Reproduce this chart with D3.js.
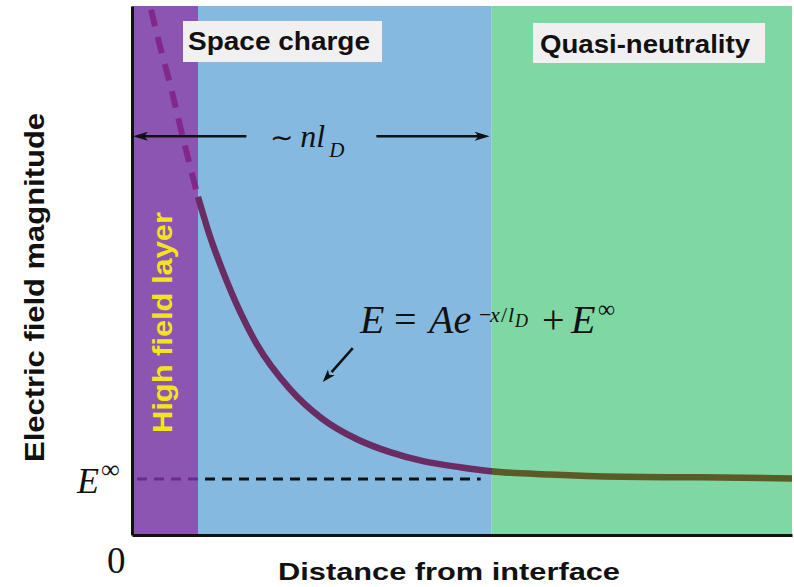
<!DOCTYPE html>
<html>
<head>
<meta charset="utf-8">
<script src="https://cdn.jsdelivr.net/npm/d3@7"></script>
<style>
  html, body { margin: 0; padding: 0; background: #fff; }
  svg { display: block; }
</style>
</head>
<body>
<svg id="chart" width="794" height="587"></svg>
<script>
// ---- data -------------------------------------------------------------
const regionNames = ["High field layer", "Space charge", "Quasi-neutrality"];
const regionStart = [0, 1.0, 5.45];
const regionEnd   = [1.0, 5.45, 10];

// field magnitude E(x) (arbitrary units), distance in arbitrary units
const fieldX = [0.27, 0.42, 0.58, 0.73, 0.88, 1.00, 1.18, 1.38, 1.64, 1.89, 2.39, 2.89,
                3.41, 3.91, 4.41, 4.97, 5.44, 6.33, 7.39, 8.61, 10.0];
const fieldY = [9.48, 8.75, 8.04, 7.30, 6.59, 6.04, 5.34, 4.70, 3.98, 3.41, 2.61, 2.07,
                1.71, 1.48, 1.32, 1.21, 1.14, 1.08, 1.04, 1.03, 1.01];

const eInf = 1.0;               // asymptotic field E∞
const spanExtent = [0, 5.45];   // extent marked "~ n l_D"
const spanLevel = 7.125;        // height of the span arrows
const xDomain = [0, 10];
const yDomain = [0, 9.45];
const originLabel = "0";
const xTitle = "Distance from interface";
const yTitle = "Electric field magnitude";

// ---- styles -----------------------------------------------------------
const regionColors = ["#8c55b2", "#86b9e0", "#7fd7a4"];
const serif = "'Liberation Serif', 'Times New Roman', serif";
const sans = "'Liberation Sans', Arial, sans-serif";

// ---- scales -----------------------------------------------------------
const svg = d3.select("#chart");
const x = d3.scaleLinear().domain(xDomain).range([132, 792]);
const y = d3.scaleLinear().domain(yDomain).range([535, 6]);

const defs = svg.append("defs");
defs.append("clipPath").attr("id", "plot-clip")
  .append("rect")
  .attr("x", x(xDomain[0])).attr("y", y(yDomain[1]))
  .attr("width", x(xDomain[1]) - x(xDomain[0]))
  .attr("height", y(yDomain[0]) - y(yDomain[1]));

// region bands
svg.append("g").selectAll("rect")
  .data(regionNames)
  .join("rect")
  .attr("x", (d, i) => x(regionStart[i]))
  .attr("width", (d, i) => x(regionEnd[i]) - x(regionStart[i]))
  .attr("y", y(yDomain[1]))
  .attr("height", y(yDomain[0]) - y(yDomain[1]))
  .attr("fill", (d, i) => regionColors[i]);

// region labels (boxed, in the top strip)
const boxed = [
  { name: regionNames[1], bx: 183, by: 21, bw: 199, bh: 41, tx: 188, ty: 50, tl: 182 },
  { name: regionNames[2], bx: 533, by: 23, bw: 232, bh: 40, tx: 540, ty: 53, tl: 210 }
];
const lbl = svg.append("g");
boxed.forEach(b => {
  lbl.append("rect").attr("x", b.bx).attr("y", b.by).attr("width", b.bw).attr("height", b.bh)
    .attr("fill", "#f1f0f0");
  lbl.append("text").attr("x", b.tx).attr("y", b.ty)
    .attr("font-family", sans).attr("font-weight", "bold").attr("font-size", 25)
    .attr("textLength", b.tl).attr("lengthAdjust", "spacingAndGlyphs")
    .attr("fill", "#111").text(b.name);
});

// high-field layer label, vertical
svg.append("text")
  .attr("transform", `translate(172,${(212 + 433) / 2}) rotate(-90)`)
  .attr("text-anchor", "middle")
  .attr("font-family", sans).attr("font-weight", "bold").attr("font-size", 27)
  .attr("textLength", 221).attr("lengthAdjust", "spacingAndGlyphs")
  .attr("fill", "#f3e41c")
  .text(regionNames[0]);

// ---- E∞ reference line -------------------------------------------------
const refGrad = defs.append("linearGradient").attr("id", "ref-grad")
  .attr("gradientUnits", "userSpaceOnUse")
  .attr("x1", x(xDomain[0])).attr("x2", x(xDomain[1])).attr("y1", 0).attr("y2", 0);
const split = (x(regionEnd[0]) - x(xDomain[0])) / (x(xDomain[1]) - x(xDomain[0]));
refGrad.append("stop").attr("offset", split).attr("stop-color", "#6a2a8e");
refGrad.append("stop").attr("offset", split).attr("stop-color", "#111");

svg.append("line")
  .attr("x1", x(xDomain[0]) + 5).attr("x2", x(regionEnd[1]) - 11)
  .attr("y1", y(eInf)).attr("y2", y(eInf))
  .attr("stroke", "url(#ref-grad)").attr("stroke-width", 3)
  .attr("stroke-dasharray", "10,7");

// ---- field curve -------------------------------------------------------
const pts = fieldX.map((v, i) => [v, fieldY[i]]);
const line = d3.line().x(d => x(d[0])).y(d => y(d[1])).curve(d3.curveMonotoneX);
const edge = regionEnd[0];

const curveG = svg.append("g").attr("clip-path", "url(#plot-clip)");

// extrapolated part inside the high-field layer (dashed)
const dashedPts = pts.filter(p => p[0] <= edge).reverse();
curveG.append("path")
  .attr("d", d3.line().x(d => x(d[0])).y(d => y(d[1])).curve(d3.curveMonotoneY)(dashedPts.slice().sort((a, b) => b[1] - a[1]).reverse()))
  .attr("fill", "none").attr("stroke", "#82288a").attr("stroke-width", 6)
  .attr("stroke-dasharray", "17,11").attr("stroke-dashoffset", 20);

// solid part, colour changes at the quasi-neutral boundary
const curveGrad = defs.append("linearGradient").attr("id", "curve-grad")
  .attr("gradientUnits", "userSpaceOnUse")
  .attr("x1", x(xDomain[0])).attr("x2", x(xDomain[1])).attr("y1", 0).attr("y2", 0);
const split2 = (x(regionStart[2]) - x(xDomain[0])) / (x(xDomain[1]) - x(xDomain[0]));
curveGrad.append("stop").attr("offset", split2).attr("stop-color", "#6a2d63");
curveGrad.append("stop").attr("offset", split2).attr("stop-color", "#5c5a27");

curveG.append("path")
  .attr("d", line(pts.filter(p => p[0] >= edge)))
  .attr("fill", "none").attr("stroke", "url(#curve-grad)").attr("stroke-width", 6.5)
  .attr("stroke-linecap", "butt");

// ---- axes --------------------------------------------------------------
const xAxis = svg.append("g").attr("transform", `translate(0,${y(0)})`)
  .call(d3.axisBottom(x).tickValues([]).tickSizeOuter(0));
const yAxis = svg.append("g").attr("transform", `translate(${x(0)},0)`)
  .call(d3.axisLeft(y).tickValues([]).tickSizeOuter(0));
[xAxis, yAxis].forEach(a => a.select(".domain").attr("stroke", "#111").attr("stroke-width", 3));

// axis titles
svg.append("text")
  .attr("x", 449).attr("y", 580).attr("text-anchor", "middle")
  .attr("font-family", sans).attr("font-weight", "bold").attr("font-size", 24)
  .attr("textLength", 342).attr("lengthAdjust", "spacingAndGlyphs")
  .attr("fill", "#111").text(xTitle);

svg.append("text")
  .attr("transform", `translate(44,287.5) rotate(-90)`)
  .attr("text-anchor", "middle")
  .attr("font-family", sans).attr("font-weight", "bold").attr("font-size", 28)
  .attr("textLength", 349).attr("lengthAdjust", "spacingAndGlyphs")
  .attr("fill", "#111").text(yTitle);

// origin and E∞ labels
svg.append("text")
  .attr("x", x(0) - 25).attr("y", y(0) + 38)
  .attr("font-family", serif).attr("font-size", 37).attr("fill", "#111")
  .text(originLabel);

const einfLbl = svg.append("text")
  .attr("x", x(0) - 55).attr("y", y(eInf) + 14)
  .attr("font-family", serif).attr("fill", "#111");
einfLbl.append("tspan").attr("font-size", 36).attr("font-style", "italic").text("E");
einfLbl.append("tspan").attr("font-size", 26).attr("dx", 2).attr("dy", -15).text("∞");

// ---- span arrows "~ n l_D" ---------------------------------------------
function arrowHead(g, tipX, tipY, ang, len, half) {
  const c = Math.cos(ang), s = Math.sin(ang);
  const bx = tipX - len * c, by = tipY - len * s;
  g.append("path")
    .attr("d", `M${tipX},${tipY}L${bx - half * s},${by + half * c}L${bx + len * 0.25 * c},${by + len * 0.25 * s}L${bx + half * s},${by - half * c}Z`)
    .attr("fill", "#111");
}
const arr = svg.append("g");
const sy = y(spanLevel);
const sL = x(spanExtent[0]) + 1, sR = x(spanExtent[1]) - 2;
const mid = (sL + sR) / 2;
arr.append("line").attr("x1", sL + 8).attr("x2", mid - 65).attr("y1", sy).attr("y2", sy)
  .attr("stroke", "#111").attr("stroke-width", 2.5);
arr.append("line").attr("x1", mid + 65).attr("x2", sR - 8).attr("y1", sy).attr("y2", sy)
  .attr("stroke", "#111").attr("stroke-width", 2.5);
arrowHead(arr, sL, sy, Math.PI, 15, 4.5);
arrowHead(arr, sR, sy, 0, 15, 4.5);

const spanLbl = svg.append("text").attr("y", sy + 11)
  .attr("font-family", serif).attr("fill", "#111");
spanLbl.append("tspan").attr("x", mid - 41).attr("font-size", 28).text("∼");
spanLbl.append("tspan").attr("x", mid - 11).attr("font-size", 32).attr("font-style", "italic").text("nl");
spanLbl.append("tspan").attr("x", mid + 18).attr("y", sy + 21).attr("font-size", 21).attr("font-style", "italic").text("D");

// ---- formula and pointer -------------------------------------------------
const fy = 333;
const fx = svg.append("text").attr("font-family", serif).attr("fill", "#111");
fx.append("tspan").attr("x", 360).attr("y", fy).attr("font-size", 40).attr("font-style", "italic").text("E");
fx.append("tspan").attr("x", 394).attr("y", fy).attr("font-size", 40).text("=");
fx.append("tspan").attr("x", 429).attr("y", fy).attr("font-size", 40).attr("font-style", "italic").text("Ae");
fx.append("tspan").attr("x", 479).attr("y", fy - 11).attr("font-size", 22).text("−");
fx.append("tspan").attr("x", 490).attr("y", fy - 11).attr("font-size", 22).attr("font-style", "italic").text("x");
fx.append("tspan").attr("x", 501).attr("y", fy - 11).attr("font-size", 22).text("/");
fx.append("tspan").attr("x", 508).attr("y", fy - 11).attr("font-size", 22).attr("font-style", "italic").text("l");
fx.append("tspan").attr("x", 515).attr("y", fy - 6).attr("font-size", 18).attr("font-style", "italic").text("D");
fx.append("tspan").attr("x", 542).attr("y", fy).attr("font-size", 40).text("+");
fx.append("tspan").attr("x", 571).attr("y", fy).attr("font-size", 40).attr("font-style", "italic").text("E");
fx.append("tspan").attr("x", 598).attr("y", fy - 16).attr("font-size", 24).text("∞");

// pointer from the formula to the curve
const anchor = pts[11];
const tipX = x(anchor[0]), tipY = y(anchor[1]) - 37;
const ang = Math.atan2(tipY - (tipY - 34), tipX - (tipX + 30));
const ptr = svg.append("g");
ptr.append("line").attr("x1", tipX + 30).attr("y1", tipY - 34)
  .attr("x2", tipX + 30 - 32 * Math.cos(Math.atan2(34, 30)) ).attr("y2", tipY - 34 + 32 * Math.sin(Math.atan2(34, 30)))
  .attr("stroke", "#111").attr("stroke-width", 2.5);
arrowHead(ptr, tipX, tipY, ang, 13, 4.5);
</script>
</body>
</html>
